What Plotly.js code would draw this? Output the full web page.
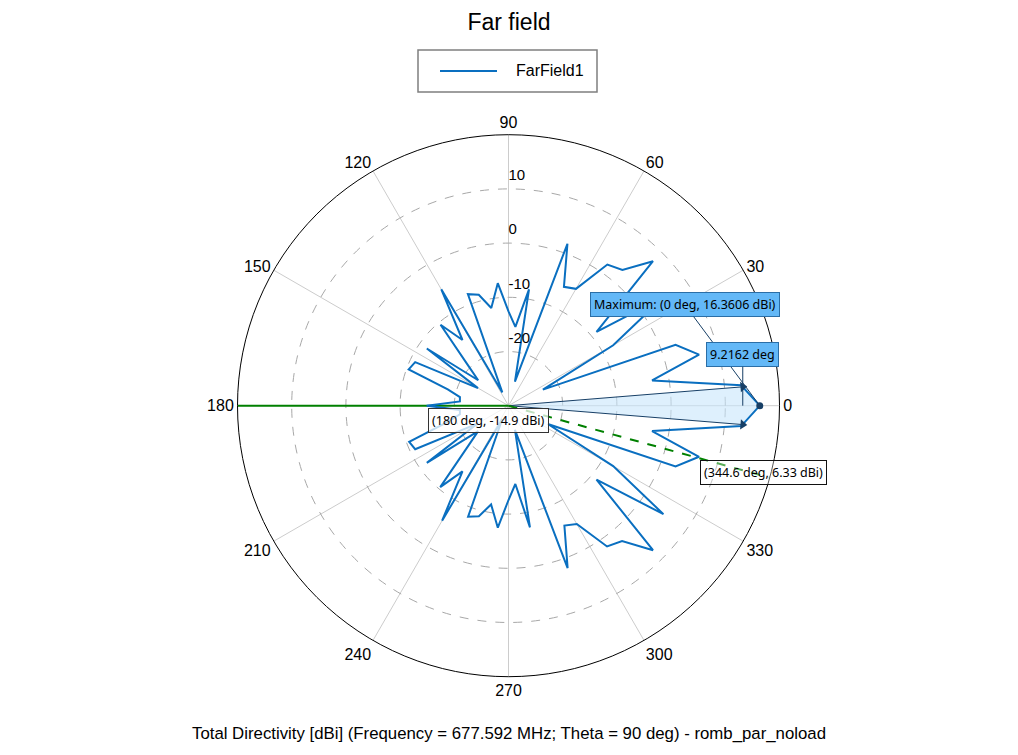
<!DOCTYPE html>
<html>
<head>
<meta charset="utf-8">
<script src="https://cdn.plot.ly/plotly-3.0.1.min.js"></script>
<style>
  html, body { margin: 0; padding: 0; background: #fff; }
  #plot { width: 1018px; height: 755px; }
</style>
</head>
<body>
<div id="plot"></div>
<script>
// ─────────────────────────────────────────────────────
// Far field data (phi cut, Theta = 90 deg)
// ─────────────────────────────────────────────────────
const phiDeg = [
    0, 5, 10, 15, 20, 25, 30, 35, 40, 45, 50, 55, 60, 65, 70, 75, 80, 85,
    90, 95, 100, 105, 110, 115, 120, 125, 130, 135, 140, 145, 150, 155, 160, 165,
    170, 175, 180, 185, 190, 195, 200, 205, 210, 215, 220, 225, 230, 235, 240, 245,
    250, 255, 260, 265, 270, 275, 280, 285, 290, 295, 300, 305, 310, 315, 320, 325,
    330, 335, 340, 345, 350, 355, 360
];
const directivity = [
    16.36, 13.1, -3.1, 6.4, 2.8, -23.0, -7.7, 4.9, -8.8, 7.7, 2.7, 1.8, -5.1, -5.8, 1.8, -25.4, -8.2, -15.4,
    -12.6, -7.3, -11.7, -8.8, -8.1, -27.3, -5.2, -15.2, -10.5, -19.4, -22.7, -11.6, -23.5, -11.0, -10.4, -18.4,
    -20.9, -21.0, -14.9, -21.0, -20.9, -18.4, -10.5, -11.0, -23.5, -11.6, -22.7, -19.4, -10.4, -15.2, -5.5, -27.3,
    -8.2, -8.9, -11.5, -7.4, -12.6, -15.5, -7.2, -25.4, 1.9, -5.6, -4.8, 1.7, 2.6, 7.7, -8.8, 4.9,
    -7.7, -22.0, 2.8, 6.4, -3.1, 13.1, 16.36
];

// markers / results shown on the chart
const maxPhi = 0, maxVal = 16.3606;
const beamWidth = 9.2162;           // 3 dB angular width
const sideLobePhi = 344.6, sideLobeVal = 6.33;
const backPhi = 180, backVal = -14.9;

// axes
const rRange = [-30, 20];
const rTicks = [-20, -10, 0, 10];
const angTicks = [0, 30, 60, 90, 120, 150, 180, 210, 240, 270, 300, 330];
const angTickText = angTicks.map(String);

const seriesName = 'FarField1';
const caption = 'Total Directivity [dBi] (Frequency = 677.592 MHz; Theta = 90 deg) - romb_par_noload';

// ─────────────────────────────────────────────────────
// geometry of the polar frame (pixels)
// ─────────────────────────────────────────────────────
const W = 1018, H = 755;
const CX = 508.5, CY = 405.7, R = 271;

// polar point -> paper coords, only used to hang the annotation boxes
function toPaper(theta, r) {
    const rr = (r - rRange[0]) / (rRange[1] - rRange[0]) * R;
    const a = theta * Math.PI / 180;
    return [(CX + rr * Math.cos(a)) / W, 1 - (CY - rr * Math.sin(a)) / H];
}
const px = x => x / W;
const py = y => 1 - y / H;

const blue = '#0a6fc0';
const navy = '#173f66';
const green = '#008000';
const fontMain = 'Liberation Sans, Arial, sans-serif';
const fontNote = 'Noto Sans, DejaVu Sans, sans-serif';

const half = beamWidth / 2;
const lvl3 = maxVal - 3;

const traces = [
    // 3 dB beam shading
    {
        type: 'scatterpolar', mode: 'lines',
        theta: [0, half, maxPhi, -half, 0],
        r: [rRange[0], lvl3, maxVal, lvl3, rRange[0]],
        fill: 'toself', fillcolor: 'rgba(200,230,252,0.6)',
        line: { width: 0 }, hoverinfo: 'skip'
    },
    // beam edges
    {
        type: 'scatterpolar', mode: 'lines',
        theta: [half, half, null, -half, -half],
        r: [rRange[0], lvl3, null, rRange[0], lvl3],
        line: { color: navy, width: 1 }, hoverinfo: 'skip'
    },
    // green markers
    {
        type: 'scatterpolar', mode: 'lines',
        theta: [backPhi, backPhi], r: rRange,
        line: { color: green, width: 2 }, hoverinfo: 'skip'
    },
    {
        type: 'scatterpolar', mode: 'lines',
        theta: [sideLobePhi, sideLobePhi], r: rRange,
        line: { color: green, width: 2, dash: 'dash' }, hoverinfo: 'skip'
    },
    // the pattern itself
    {
        type: 'scatterpolar', mode: 'lines', name: seriesName,
        theta: phiDeg, r: directivity,
        line: { color: blue, width: 2 }, hoverinfo: 'skip'
    },
    // arrow heads at 3 dB points
    {
        type: 'scatterpolar', mode: 'markers',
        theta: [half, -half], r: [lvl3, lvl3],
        marker: { symbol: 'triangle-right', size: 9, color: navy, angle: [-half, half] },
        hoverinfo: 'skip'
    },
    // maximum dot
    {
        type: 'scatterpolar', mode: 'markers',
        theta: [maxPhi], r: [maxVal],
        marker: { size: 7, color: navy }, hoverinfo: 'skip'
    },
    // radial tick labels beside the 90 deg spoke (sit a little above each ring)
    {
        type: 'scatterpolar', mode: 'text',
        theta: rTicks.map(() => 90), r: rTicks.map(v => v + 0.9),
        text: rTicks.map(String), textposition: 'top right',
        textfont: { size: 15, family: fontMain, color: '#000' },
        hoverinfo: 'skip'
    }
];

const pMax = toPaper(maxPhi, maxVal);
const p3 = toPaper(half, lvl3);
const pBack = toPaper(backPhi, backVal);
const pSide = toPaper(sideLobePhi, sideLobeVal);

const noteBox = {
    font: { size: 12.5, family: fontNote, color: '#000' },
    borderwidth: 1, borderpad: 3, xref: 'paper', yref: 'paper'
};

const annotations = [
    Object.assign({}, noteBox, {
        text: 'Maximum: (0 deg, ' + maxVal + ' dBi)',
        x: pMax[0], y: pMax[1], ax: -75, ay: -101,
        showarrow: true, arrowhead: 0, arrowwidth: 1, arrowcolor: navy,
        bgcolor: '#63b8f7', bordercolor: '#2b6ea6'
    }),
    Object.assign({}, noteBox, {
        text: beamWidth + ' deg',
        x: p3[0], y: 1 - CY / H, ax: 0, ay: -51,
        showarrow: true, arrowhead: 0, arrowwidth: 1, arrowcolor: navy,
        bgcolor: '#63b8f7', bordercolor: '#2b6ea6'
    }),
    Object.assign({}, noteBox, {
        text: '(' + backPhi + ' deg, ' + backVal + ' dBi)',
        x: pBack[0], y: pBack[1], xanchor: 'left', yanchor: 'top',
        xshift: 1, yshift: -2, showarrow: false,
        bgcolor: 'rgba(255,255,255,0.75)', bordercolor: '#333333'
    }),
    Object.assign({}, noteBox, {
        text: '(' + sideLobePhi + ' deg, ' + sideLobeVal + ' dBi)',
        x: pSide[0], y: pSide[1], xanchor: 'left', yanchor: 'top',
        xshift: 2, yshift: -2, showarrow: false,
        bgcolor: 'rgba(255,255,255,0.35)', bordercolor: '#111111'
    }),
    // legend text
    {
        text: seriesName, xref: 'paper', yref: 'paper',
        x: px(514), y: py(71), xanchor: 'left', yanchor: 'middle', showarrow: false,
        font: { size: 16, family: fontMain, color: '#000' }
    },
    {
        text: caption,
        xref: 'paper', yref: 'paper', x: 0.5, y: py(733),
        xanchor: 'center', yanchor: 'middle', showarrow: false,
        font: { size: 16.8, family: fontMain, color: '#000' }
    }
];

// legend box drawn by hand so it can match the original size
const shapes = [
    {
        type: 'rect', xref: 'paper', yref: 'paper',
        x0: px(418), x1: px(597), y0: py(50), y1: py(92),
        line: { color: '#7f7f7f', width: 1.5 }, fillcolor: '#fff'
    },
    {
        type: 'line', xref: 'paper', yref: 'paper',
        x0: px(440), x1: px(497), y0: py(71), y1: py(71),
        line: { color: blue, width: 2 }
    }
];

const layout = {
    width: W, height: H,
    margin: { l: 0, r: 0, t: 0, b: 0 },
    paper_bgcolor: '#fff',
    font: { family: fontMain, color: '#000' },
    title: {
        text: 'Far field', font: { size: 23, family: fontMain, color: '#000' },
        x: 0.5, xanchor: 'center', xref: 'container',
        y: py(22), yanchor: 'middle', yref: 'container'
    },
    showlegend: false,
    polar: {
        domain: { x: [(CX - R) / W, (CX + R) / W], y: [(H - CY - R) / H, (H - CY + R) / H] },
        bgcolor: '#fff',
        angularaxis: {
            rotation: 0, direction: 'counterclockwise',
            tickmode: 'array', tickvals: angTicks, ticktext: angTickText,
            ticks: '', showline: true, linecolor: '#000', linewidth: 1,
            gridcolor: '#cccccc', gridwidth: 1,
            tickfont: { size: 16, family: fontMain, color: '#000' }
        },
        radialaxis: {
            range: rRange, angle: 90,
            tickmode: 'array', tickvals: rTicks,
            showticklabels: false, ticks: '', showline: false,
            gridcolor: '#a8a8a8', gridwidth: 1, griddash: 'dash'
        }
    },
    shapes: shapes,
    annotations: annotations
};

Plotly.newPlot('plot', traces, layout, { displayModeBar: false, staticPlot: true });
</script>
</body>
</html>
